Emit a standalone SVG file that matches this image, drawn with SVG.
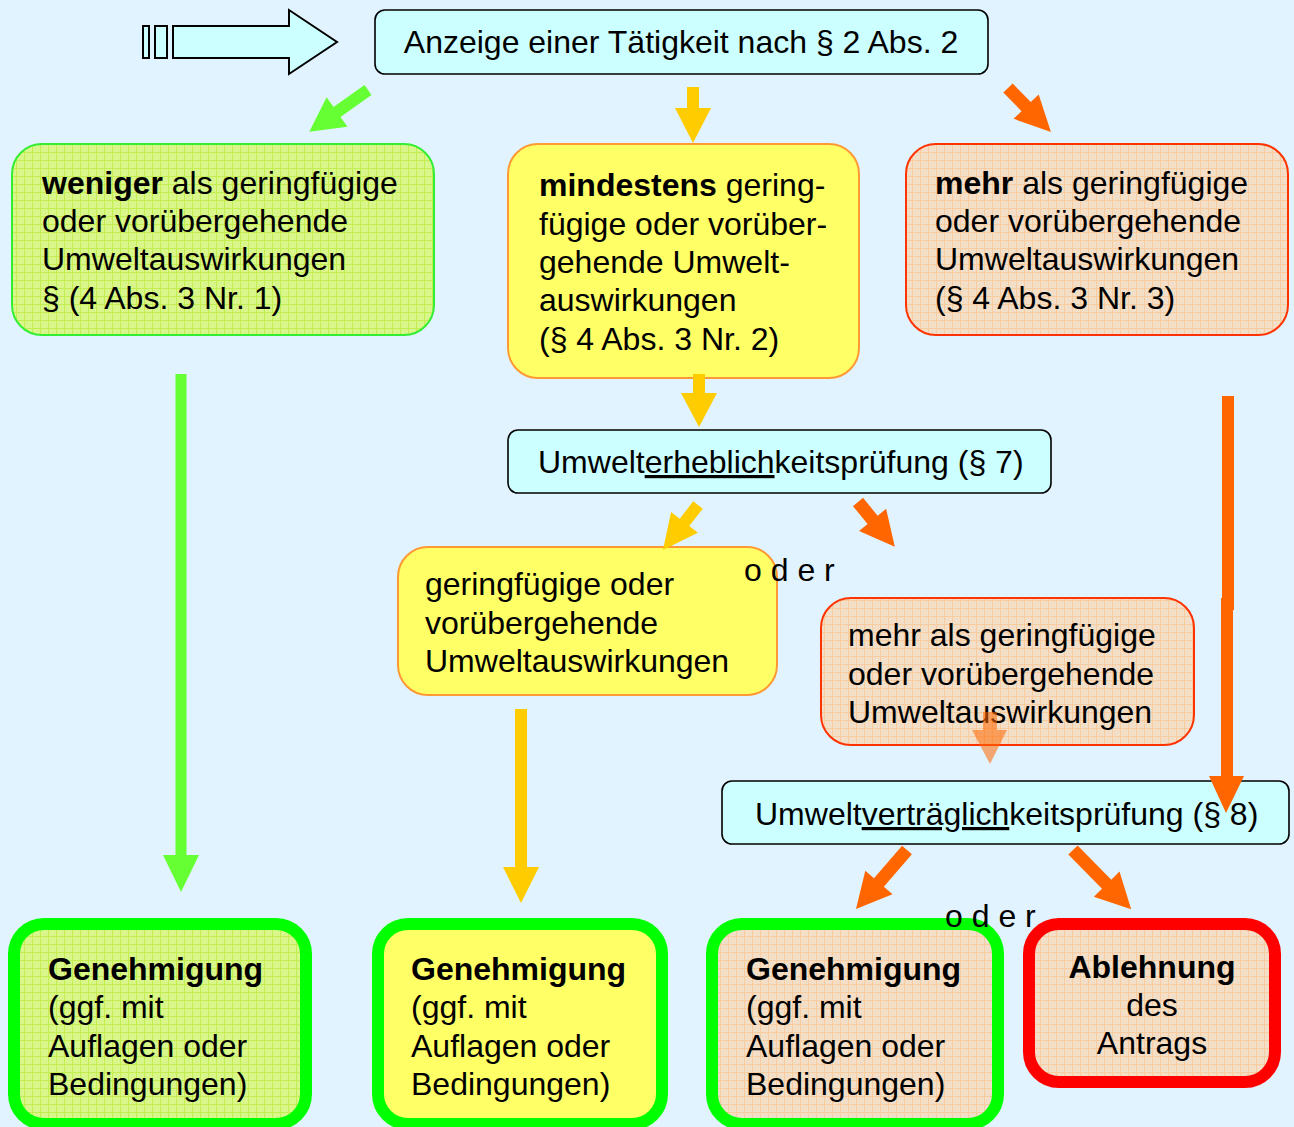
<svg xmlns="http://www.w3.org/2000/svg" width="1294" height="1127" viewBox="0 0 1294 1127">
<defs>
<style>
text{font-family:"Liberation Sans",Arial,sans-serif;font-size:32px;fill:#000}
.b{font-weight:bold}
.cyan{fill:#ccffff;stroke:#000;stroke-width:1.6}
.gbox{fill:url(#gridG);stroke:#33ee33;stroke-width:2}
.ybox{fill:#ffff66;stroke:#ff9933;stroke-width:2}
.obox{fill:url(#gridO);stroke:#ff3300;stroke-width:2}
.gthick{stroke:#00ff00;stroke-width:12}
.rthick{stroke:#ff0000;stroke-width:12}
.ag{fill:#66ff33}
.ay{fill:#ffcc00}
.ao{fill:#ff6600}
</style>
<pattern id="gridG" width="8" height="8" patternUnits="userSpaceOnUse">
<rect width="8" height="8" fill="#d8f68a"/>
<path d="M0 0.5H8M0.5 0V8" stroke="#c4ee50" stroke-width="1"/>
</pattern>
<pattern id="gridO" width="8" height="8" patternUnits="userSpaceOnUse">
<rect width="8" height="8" fill="#f3dfc8"/>
<path d="M0 0.5H8M0.5 0V8" stroke="#f8cc9e" stroke-width="1"/>
</pattern>
</defs>
<rect width="1294" height="1127" fill="#e1f3fe"/>

<g id="n-start">
<rect class="cyan" x="375" y="10" width="613" height="64" rx="10"/>
<text x="681" y="53" text-anchor="middle">Anzeige einer Tätigkeit nach § 2 Abs. 2</text>
</g>

<g id="n-weniger">
<rect class="gbox" x="12" y="144" width="422" height="191" rx="30"/>
<text x="42" y="194"><tspan class="b">weniger</tspan> als geringfügige</text>
<text x="42" y="232">oder vorübergehende</text>
<text x="42" y="270">Umweltauswirkungen</text>
<text x="42" y="309">§ (4 Abs. 3 Nr. 1)</text>
</g>

<g id="n-mindestens">
<rect class="ybox" x="508" y="144" width="351" height="234" rx="30"/>
<text x="539" y="196"><tspan class="b">mindestens</tspan> gering-</text>
<text x="539" y="235">fügige oder vorüber-</text>
<text x="539" y="273">gehende Umwelt-</text>
<text x="539" y="311">auswirkungen</text>
<text x="539" y="350">(§ 4 Abs. 3 Nr. 2)</text>
</g>

<g id="n-mehr">
<rect class="obox" x="906" y="144" width="382" height="191" rx="30"/>
<text x="935" y="194"><tspan class="b">mehr</tspan> als geringfügige</text>
<text x="935" y="232">oder vorübergehende</text>
<text x="935" y="270">Umweltauswirkungen</text>
<text x="935" y="309">(§ 4 Abs. 3 Nr. 3)</text>
</g>

<g id="n-uep">
<rect class="cyan" x="508" y="430" width="543" height="63" rx="10"/>
<text x="538" y="473">Umwelt<tspan text-decoration="underline">erheblich</tspan>keitsprüfung (§ 7)</text>
</g>

<g id="n-gering">
<rect class="ybox" x="398" y="547" width="379" height="148" rx="30"/>
<text x="425" y="595">geringfügige oder</text>
<text x="425" y="634">vorübergehende</text>
<text x="425" y="672">Umweltauswirkungen</text>
</g>

<g id="n-mehr2">
<rect class="obox" x="821" y="598" width="373" height="147" rx="30"/>
<text x="848" y="646">mehr als geringfügige</text>
<text x="848" y="685">oder vorübergehende</text>
<text x="848" y="723">Umweltauswirkungen</text>
</g>

<g id="n-uvp">
<rect class="cyan" x="722" y="781" width="567" height="63" rx="10"/>
<text x="755" y="825">Umwelt<tspan text-decoration="underline">verträglich</tspan>keitsprüfung (§ 8)</text>
</g>

<g id="n-gen1">
<rect class="gbox gthick" x="14" y="924" width="292" height="200" rx="30"/>
<text x="48" y="980" class="b">Genehmigung</text>
<text x="48" y="1018">(ggf. mit</text>
<text x="48" y="1057">Auflagen oder</text>
<text x="48" y="1095">Bedingungen)</text>
</g>

<g id="n-gen2">
<rect class="ybox gthick" x="378" y="924" width="284" height="200" rx="30"/>
<text x="411" y="980" class="b">Genehmigung</text>
<text x="411" y="1018">(ggf. mit</text>
<text x="411" y="1057">Auflagen oder</text>
<text x="411" y="1095">Bedingungen)</text>
</g>

<g id="n-gen3">
<rect class="obox gthick" x="712" y="924" width="286" height="200" rx="30"/>
<text x="746" y="980" class="b">Genehmigung</text>
<text x="746" y="1018">(ggf. mit</text>
<text x="746" y="1057">Auflagen oder</text>
<text x="746" y="1095">Bedingungen)</text>
</g>

<g id="n-ablehnung">
<rect class="obox rthick" x="1029" y="924" width="246" height="158" rx="30"/>
<text x="1152" y="978" text-anchor="middle" class="b">Ablehnung</text>
<text x="1152" y="1016" text-anchor="middle">des</text>
<text x="1152" y="1054" text-anchor="middle">Antrags</text>
</g>

<g id="connectors">
<g fill="#ccffff" stroke="#000" stroke-width="2">
<rect x="143" y="26" width="6" height="32"/>
<rect x="155" y="26" width="12" height="32"/>
<path d="M173 26H289V10L337 42L289 74V58H173Z"/>
</g>
<path class="ag" transform="translate(368,90) rotate(144.6)" d="M0 -6H38V-18L72 0L38 18V6H0Z"/>
<path class="ay" transform="translate(693,87) rotate(90)" d="M0 -6H21V-18L56 0L21 18V6H0Z"/>
<path class="ao" transform="translate(1008,88) rotate(45.7)" d="M0 -6.5H26V-17.5L61.5 0L26 17.5V6.5H0Z"/>
<path class="ag" transform="translate(181,374) rotate(90)" d="M0 -5.5H481V-18L518 0L481 18V5.5H0Z"/>
<path class="ay" transform="translate(699,374) rotate(90)" d="M0 -6H19V-18L53 0L19 18V6H0Z"/>
<path class="ay" transform="translate(698,505) rotate(127.9)" d="M0 -6H22V-17L57 0L22 17V6H0Z"/>
<path class="ao" transform="translate(858,502) rotate(50.6)" d="M0 -6.5H23V-17.5L58 0L23 17.5V6.5H0Z"/>
<path class="ay" transform="translate(521,709) rotate(90)" d="M0 -6H158V-18L194 0L158 18V6H0Z"/>
<path class="ao" opacity="0.55" d="M983 712H997V730H1007L990 764L972 730H983Z"/>
<rect class="ao" x="1222" y="396" width="12" height="214"/>
<path class="ao" d="M1221 598H1233V776H1244L1226 813L1209 776H1221Z"/>
<path class="ao" transform="translate(907,850) rotate(130.8)" d="M0 -6.5H43V-18L78 0L43 18V6.5H0Z"/>
<path class="ao" transform="translate(1073,850) rotate(45.5)" d="M0 -6.5H48V-18L83 0L48 18V6.5H0Z"/>
</g>

<text x="744" y="581">o d e r</text>
<text x="945" y="927">o d e r</text>
</svg>
